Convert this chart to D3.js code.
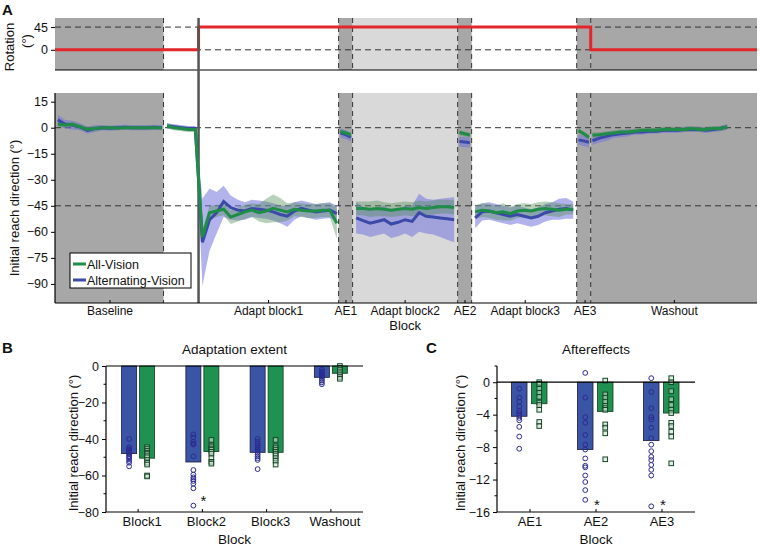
<!DOCTYPE html>
<html>
<head>
<meta charset="utf-8">
<script src="https://cdn.jsdelivr.net/npm/d3@7"></script>
<style>
  body { margin: 0; background: #fff; }
  text { font-family: "Liberation Sans", Arial, sans-serif; fill: #111; }
</style>
</head>
<body>
<script>
// block layout along the session (cycles)
const blockEdges = [0, 31, 41, 81, 85, 115, 119, 149, 153, 200.5];
const blockShade = ["dark", "none", "none", "dark", "light", "dark", "none", "dark", "dark"];
const dashedEdges = [31, 81, 85, 115, 119, 149, 153];
const rotationOnset = 41;
const blockLabels = ["Baseline", "Adapt block1", "AE1", "Adapt block2", "AE2", "Adapt block3", "AE3", "Washout"];
const blockTicks = [15.7, 61, 83.1, 100, 117.1, 134.3, 151.4, 176.9];

// imposed rotation
const rotationCycles = [0, 41, 41, 153, 153, 200.5];
const rotationDeg = [0, 0, 45, 45, 0, 0];

// trace segments: [first cycle, last cycle]
const traceSpans = [[0.8, 30.5], [32, 80.5], [81.5, 84.5], [86, 114], [115.5, 118.5], [120, 148], [149.5, 152.5], [153.5, 192]];

const allVisionMean = [
  [2, 1.5, 2, 0.5, -1, -0.5, 0, 0, -0.2, 0, 0, 0, 0, 0, 0],
  [1, 0, -0.5, -1, -1,
   -63, -49, -48, -47, -51.5, -50, -48.5, -47.5, -49, -48, -46.5, -47.5, -48.5, -47, -47.5, -48, -48, -47.5, -47.5, -55],
  [-2.3, -3, -4.2],
  [-46.5, -46.5, -47, -46.5, -47, -47.5, -47, -46.5, -47, -46, -46.5, -46, -45.5, -45.5, -46],
  [-2.8, -3.5, -4.2],
  [-48.5, -47.5, -48, -49, -48.5, -49.5, -48, -47.5, -48, -47, -46.5, -47, -47.5, -47, -47],
  [-1.7, -3.5, -5.5],
  [-4.2, -4, -3.5, -3, -2.5, -2.5, -2, -1.5, -1.5, -1.5, -1, -1, -1, -1, -0.5, -1, -1, -0.5, -0.5, 0.5]
];
const allVisionSd = [
  [1.5, 1.5, 1.5, 1.5, 1.5, 1.5, 1.2, 1.2, 1.2, 1.2, 1.2, 1.2, 1.2, 1.2, 1.2],
  [1.5, 1.5, 1.5, 1.5, 1.5,
   4, 4, 3.5, 3.5, 4, 4, 4, 4, 5, 7, 8, 7, 5, 4, 4, 4, 4, 4, 4, 9],
  [1.5, 1.5, 1.5],
  [4, 4, 4.5, 4.5, 4, 4, 4, 4, 4, 4, 4, 4, 4, 4, 4],
  [1.5, 1.5, 1.5],
  [4, 4, 4, 4, 5, 4, 4, 4, 4, 4, 4, 4, 4, 3, 3],
  [1.5, 1.5, 1.5],
  [1.5, 1.5, 1.5, 1.5, 1.5, 1.5, 1.5, 1.5, 1.5, 1.5, 1.5, 1.5, 1.5, 1.5, 1.5, 1.5, 1.5, 1.5, 1.5, 1.5]
];
const altVisionMean = [
  [4.5, 2, 1.5, 0.5, -1.5, -0.5, 0, -0.3, 0, 0.2, 0, 0, 0, 0.2, 0],
  [1, 0.5, 0, -0.5, -0.5,
   -66, -53, -49, -42.5, -46, -47.5, -48, -46.5, -47, -47.5, -48.5, -50, -51, -48, -46.5, -47.5, -48.5, -48, -47.5, -49.5],
  [-3, -4, -5.5],
  [-52, -53.5, -55, -54, -53, -55.5, -54.5, -53, -54, -49, -51, -51.5, -52, -52.5, -53],
  [-8, -8.3, -8.6],
  [-52, -48.5, -48, -49, -50, -51, -50, -51, -52, -51, -49, -48, -47, -46.5, -47.5],
  [-7, -7.6, -8.4],
  [-7.5, -6, -5, -4, -3.5, -3, -2.5, -2.5, -2, -2, -1.5, -1.5, -1.5, -1, -1, -1, -1.5, -1, -0.5, 0.5]
];
const altVisionSd = [
  [3, 2.5, 2.5, 2, 2, 2, 1.5, 1.5, 1.5, 1.5, 1.5, 1.5, 1.5, 1.5, 1.5],
  [1.5, 1.5, 1.5, 1.5, 1.5,
   25, 18, 12, 9, 7, 6, 5, 5, 5, 5, 5, 5, 6, 5, 4.5, 4.5, 4.5, 4.5, 4.5, 4.5],
  [2.5, 2.5, 2.5],
  [9, 8, 8, 8, 8, 8, 8, 8, 9, 11, 10, 10, 11, 12, 13],
  [3, 3, 3],
  [6, 5, 5, 5, 5, 5, 5, 5, 5, 5, 5, 5, 6, 6, 5],
  [3, 3, 3],
  [2.5, 2.5, 2.5, 2, 2, 2, 1.5, 1.5, 1.5, 1.5, 1.5, 1.5, 1.5, 1.5, 1.5, 1.5, 1.5, 1.5, 1.5, 1.5]
];

// panel B: adaptation extent
const extentBlocks = ["Block1", "Block2", "Block3", "Washout"];
const extentAll = [-50.5, -46.9, -47.3, -4];
const extentAlt = [-48, -52.6, -47.3, -6.2];
const extentAllSubj = [
  [-44.5, -45.5, -46.5, -47.5, -48, -49, -50, -51.5, -53, -54, -60, -60.5],
  [-40.5, -43.5, -44.5, -45.5, -46, -47, -48, -50.5, -52.5, -53.5],
  [-40.5, -44, -45, -46, -47, -48, -49, -50.5, -52, -54],
  [0, -1, -2, -3, -4, -5, -6, -7]
];
const extentAltSubj = [
  [-40, -44.5, -45.5, -46, -46.5, -47, -47.5, -48, -48.5, -49.5, -50, -51, -52, -53, -55],
  [-37.5, -39, -41.5, -42.5, -43, -49.5, -57, -59.5, -61, -62, -63, -64.5, -67, -76.5],
  [-40, -41.5, -42.5, -43.5, -44.5, -45.5, -46.5, -47.5, -48.5, -49.5, -50.5, -51.5, -56.5],
  [-2, -3, -3.5, -4, -4.5, -5, -5.5, -6, -7, -8, -9, -10]
];
const extentStars = [null, -72, null, null];

// panel C: aftereffects
const aeBlocks = ["AE1", "AE2", "AE3"];
const aeAll = [-2.65, -3.6, -3.8];
const aeAlt = [-4.2, -8.3, -7.2];
const aeAllSubj = [
  [0, -0.2, -0.8, -1.3, -1.8, -2.5, -2.8, -3.4, -4.9, -5.4],
  [0.2, -1.5, -1.9, -2.4, -2.9, -3.2, -3.4, -5.2, -5.6, -6.3, -9.5],
  [0.5, 0, -1.1, -2.1, -2.8, -3.4, -3.8, -5, -5.4, -6.1, -6.7, -10]
];
const aeAltSubj = [
  [-0.8, -1.9, -2.4, -3, -3.5, -3.8, -4.1, -4.4, -4.7, -5.5, -6.7, -8.2],
  [1.15, -1.9, -4.3, -5, -6.5, -7.7, -8.3, -9.4, -10.3, -10.5, -11.5, -12.3, -13.3, -14.5],
  [0.5, -1.2, -3.2, -4.3, -4.6, -5.6, -6.9, -7.7, -8.5, -9.2, -9.6, -10.2, -10.8, -11.5, -15.3]
];
const aeStars = [null, -14.7, -14.7];

const colAll = "#1f8c48", colAlt = "#3b4aa8";
const barAll = "#1f9150", barAlt = "#3a55a5";
const FONT = "Liberation Sans, Arial, sans-serif";

const svg = d3.select("body").append("svg").attr("width", 760).attr("height", 547);

const x = d3.scaleLinear().domain([0, 200.5]).range([55, 757]);
const yRot = d3.scaleLinear().domain([-40, 63]).range([70, 18]);
const yMain = d3.scaleLinear().domain([-101, 20]).range([303, 93]);

function shadePanel(yTop, yBot) {
  blockShade.forEach((s, i) => {
    if (s === "none") return;
    svg.append("rect")
      .attr("x", x(blockEdges[i])).attr("y", yTop)
      .attr("width", x(blockEdges[i + 1]) - x(blockEdges[i]))
      .attr("height", yBot - yTop)
      .attr("fill", s === "dark" ? "#a7a7a7" : "#d9d9d9");
  });
  dashedEdges.forEach(c => {
    svg.append("line").attr("x1", x(c)).attr("x2", x(c)).attr("y1", yTop).attr("y2", yBot)
      .attr("stroke", "#333").attr("stroke-width", 1).attr("stroke-dasharray", "5,4");
  });
}

function hDash(yv, scale) {
  svg.append("line").attr("x1", 55).attr("x2", 757).attr("y1", scale(yv)).attr("y2", scale(yv))
    .attr("stroke", "#333").attr("stroke-width", 1).attr("stroke-dasharray", "6,4");
}

// ---- panel A, rotation
shadePanel(18, 70);
hDash(45, yRot);
hDash(0, yRot);
svg.append("path")
  .datum(rotationCycles.map((c, i) => [c, rotationDeg[i]]))
  .attr("fill", "none").attr("stroke", "#e3262b").attr("stroke-width", 3)
  .attr("d", d3.line().x(d => x(d[0])).y(d => yRot(d[1])));
svg.append("line").attr("x1", 55).attr("x2", 757).attr("y1", 70).attr("y2", 70).attr("stroke", "#000").attr("stroke-width", 1.2);
const gRot = svg.append("g").attr("transform", "translate(55,0)")
  .call(d3.axisLeft(yRot).tickValues([0, 45]).tickSize(4).tickSizeOuter(0));
gRot.select(".domain").remove();
gRot.selectAll("text").style("font-size", "12.5px").style("font-family", FONT);

svg.append("text").attr("transform", "translate(14,47) rotate(-90)").attr("text-anchor", "middle")
  .style("font-size", "13px").text("Rotation");
svg.append("text").attr("transform", "translate(31,41) rotate(-90)").attr("text-anchor", "middle")
  .style("font-size", "13px").text("(°)");

// ---- panel A, reach direction
shadePanel(93, 303);
hDash(0, yMain);
hDash(-45, yMain);

svg.append("line").attr("x1", x(rotationOnset)).attr("x2", x(rotationOnset)).attr("y1", 18).attr("y2", 303)
  .attr("stroke", "#555").attr("stroke-width", 2.5);

function segPoints(mean, sd, k) {
  const [a, b] = traceSpans[k];
  const n = mean.length;
  return mean.map((v, i) => ({ c: n === 1 ? a : a + (b - a) * i / (n - 1), v: v, sd: sd[i] }));
}

const band = d3.area().x(d => x(d.c)).y0(d => yMain(d.v - d.sd)).y1(d => yMain(d.v + d.sd));
const trace = d3.line().x(d => x(d.c)).y(d => yMain(d.v));

const altSegs = altVisionMean.map((m, k) => segPoints(m, altVisionSd[k], k));
const allSegs = allVisionMean.map((m, k) => segPoints(m, allVisionSd[k], k));

altSegs.forEach(s => svg.append("path").datum(s).attr("d", band).attr("fill", "#7373dc").attr("fill-opacity", 0.55));
allSegs.forEach(s => svg.append("path").datum(s).attr("d", band).attr("fill", "#4f8a55").attr("fill-opacity", 0.4));
altSegs.forEach(s => svg.append("path").datum(s).attr("d", trace).attr("fill", "none").attr("stroke", colAlt).attr("stroke-width", 3));
allSegs.forEach(s => svg.append("path").datum(s).attr("d", trace).attr("fill", "none").attr("stroke", colAll).attr("stroke-width", 3));

svg.append("line").attr("x1", 55).attr("x2", 757).attr("y1", 303).attr("y2", 303).attr("stroke", "#000").attr("stroke-width", 1.2);
svg.append("line").attr("x1", 55).attr("x2", 55).attr("y1", 93).attr("y2", 303).attr("stroke", "#000").attr("stroke-width", 1.2);

const gMain = svg.append("g").attr("transform", "translate(55,0)")
  .call(d3.axisLeft(yMain).tickValues([15, 0, -15, -30, -45, -60, -75, -90]).tickSize(4));
gMain.select(".domain").remove();
gMain.selectAll("text").style("font-size", "12.5px").style("font-family", FONT);

blockTicks.forEach((c, i) => {
  svg.append("line").attr("x1", x(c)).attr("x2", x(c)).attr("y1", 303).attr("y2", 300).attr("stroke", "#000");
  svg.append("text").attr("x", x(c)).attr("y", 315).attr("text-anchor", "middle")
    .style("font-size", "12px").text(blockLabels[i]);
});
svg.append("text").attr("x", x(100)).attr("y", 330).attr("text-anchor", "middle").style("font-size", "13px").text("Block");
svg.append("text").attr("transform", "translate(19,208) rotate(-90)").attr("text-anchor", "middle")
  .style("font-size", "13px").text("Initial reach direction (°)");

// legend
const lg = svg.append("g");
lg.append("rect").attr("x", 70).attr("y", 253).attr("width", 121).attr("height", 35)
  .attr("fill", "#fff").attr("stroke", "#000").attr("stroke-width", 1);
[["All-Vision", colAll], ["Alternating-Vision", colAlt]].forEach((d, i) => {
  const yy = 264 + i * 16;
  lg.append("line").attr("x1", 73).attr("x2", 86).attr("y1", yy).attr("y2", yy).attr("stroke", d[1]).attr("stroke-width", 3);
  lg.append("text").attr("x", 87).attr("y", yy + 4.5).style("font-size", "12.5px").text(d[0]);
});

svg.append("text").attr("x", 2).attr("y", 15).style("font-size", "15px").style("font-weight", "bold").text("A");

// ---- bar panels
function barPanel(opts) {
  const xb = d3.scaleBand().domain(opts.cats).range(opts.xr);
  const yb = d3.scaleLinear().domain(opts.yd).range([512, 366]);
  const g = svg.append("g");
  const cx = d => xb(d) + xb.bandwidth() / 2;

  g.selectAll(".bAlt").data(opts.cats).enter().append("rect")
    .attr("x", d => cx(d) + opts.altOff).attr("width", opts.bw)
    .attr("y", yb(0)).attr("height", (d, i) => yb(opts.alt[i]) - yb(0))
    .attr("fill", barAlt).attr("stroke", "#1a1a3a").attr("stroke-width", 0.8);
  g.selectAll(".bAll").data(opts.cats).enter().append("rect")
    .attr("x", d => cx(d) + opts.allOff).attr("width", opts.bw)
    .attr("y", yb(0)).attr("height", (d, i) => yb(opts.all[i]) - yb(0))
    .attr("fill", barAll).attr("stroke", "#123a1e").attr("stroke-width", 0.8);

  opts.cats.forEach((c, i) => {
    const xa = cx(c) + opts.altOff + opts.bw / 2;
    const xg = cx(c) + opts.allOff + opts.bw / 2;
    opts.altSubj[i].forEach(v => g.append("circle").attr("cx", xa).attr("cy", yb(v)).attr("r", 2.4)
      .attr("fill", "none").attr("stroke", "#2b2b92").attr("stroke-width", 1));
    opts.allSubj[i].forEach(v => g.append("rect").attr("x", xg - 2.3).attr("y", yb(v) - 2.3)
      .attr("width", 4.6).attr("height", 4.6).attr("fill", "#cfe3cf").attr("fill-opacity", 0.6)
      .attr("stroke", "#16472a").attr("stroke-width", 1));
    if (opts.stars[i] !== null) {
      g.append("text").attr("x", cx(c) + 1).attr("y", yb(opts.stars[i]) + 9).attr("text-anchor", "middle")
        .style("font-size", "15px").text("*");
    }
  });

  g.append("line").attr("x1", opts.xr[0]).attr("x2", opts.xr[1]).attr("y1", yb(0)).attr("y2", yb(0)).attr("stroke", "#000").attr("stroke-width", 1.2);
  g.append("line").attr("x1", opts.xr[0]).attr("x2", opts.xr[1]).attr("y1", 512).attr("y2", 512).attr("stroke", "#000").attr("stroke-width", 1.2);
  g.append("line").attr("x1", opts.xr[0]).attr("x2", opts.xr[0]).attr("y1", 366).attr("y2", 512).attr("stroke", "#000").attr("stroke-width", 1.2);

  const ax = g.append("g").attr("transform", `translate(${opts.xr[0]},0)`)
    .call(d3.axisLeft(yb).tickValues(opts.major).tickSize(4));
  ax.select(".domain").remove();
  ax.selectAll("text").style("font-size", "12.5px").style("font-family", FONT);
  opts.minor.forEach(v => g.append("line").attr("x1", opts.xr[0] - 2.5).attr("x2", opts.xr[0])
    .attr("y1", yb(v)).attr("y2", yb(v)).attr("stroke", "#000"));

  opts.cats.forEach(c => {
    g.append("line").attr("x1", cx(c)).attr("x2", cx(c)).attr("y1", 512).attr("y2", 509).attr("stroke", "#000");
    g.append("text").attr("x", cx(c) + opts.labOff).attr("y", 526).attr("text-anchor", "middle")
      .style("font-size", "13px").text(c);
  });
  const mid = (opts.xr[0] + opts.xr[1]) / 2;
  g.append("text").attr("x", mid).attr("y", 544).attr("text-anchor", "middle").style("font-size", "13.5px").text("Block");
  g.append("text").attr("x", mid).attr("y", 354).attr("text-anchor", "middle").style("font-size", "13.5px").text(opts.title);
  g.append("text").attr("transform", `translate(${opts.ylabX},443) rotate(-90)`).attr("text-anchor", "middle")
    .style("font-size", "13px").text("Initial reach direction (°)");
  g.append("text").attr("x", opts.letterX).attr("y", 353).style("font-size", "15px").style("font-weight", "bold").text(opts.letter);
}

barPanel({
  cats: extentBlocks, xr: [106, 363], yd: [-80, 0], all: extentAll, alt: extentAlt,
  allSubj: extentAllSubj, altSubj: extentAltSubj, stars: extentStars,
  bw: 15, altOff: -16.5, allOff: 1.5, labOff: 4,
  major: [0, -20, -40, -60, -80], minor: [-10, -30, -50, -70],
  title: "Adaptation extent", ylabX: 78, letter: "B", letterX: 2
});
barPanel({
  cats: aeBlocks, xr: [497, 695], yd: [-16, 2], all: aeAll, alt: aeAlt,
  allSubj: aeAllSubj, altSubj: aeAltSubj, stars: aeStars,
  bw: 15.5, altOff: -18.5, allOff: 1.5, labOff: 0,
  major: [0, -4, -8, -12, -16], minor: [2, -2, -6, -10, -14],
  title: "Aftereffects", ylabX: 465, letter: "C", letterX: 426
});
</script>
</body>
</html>
